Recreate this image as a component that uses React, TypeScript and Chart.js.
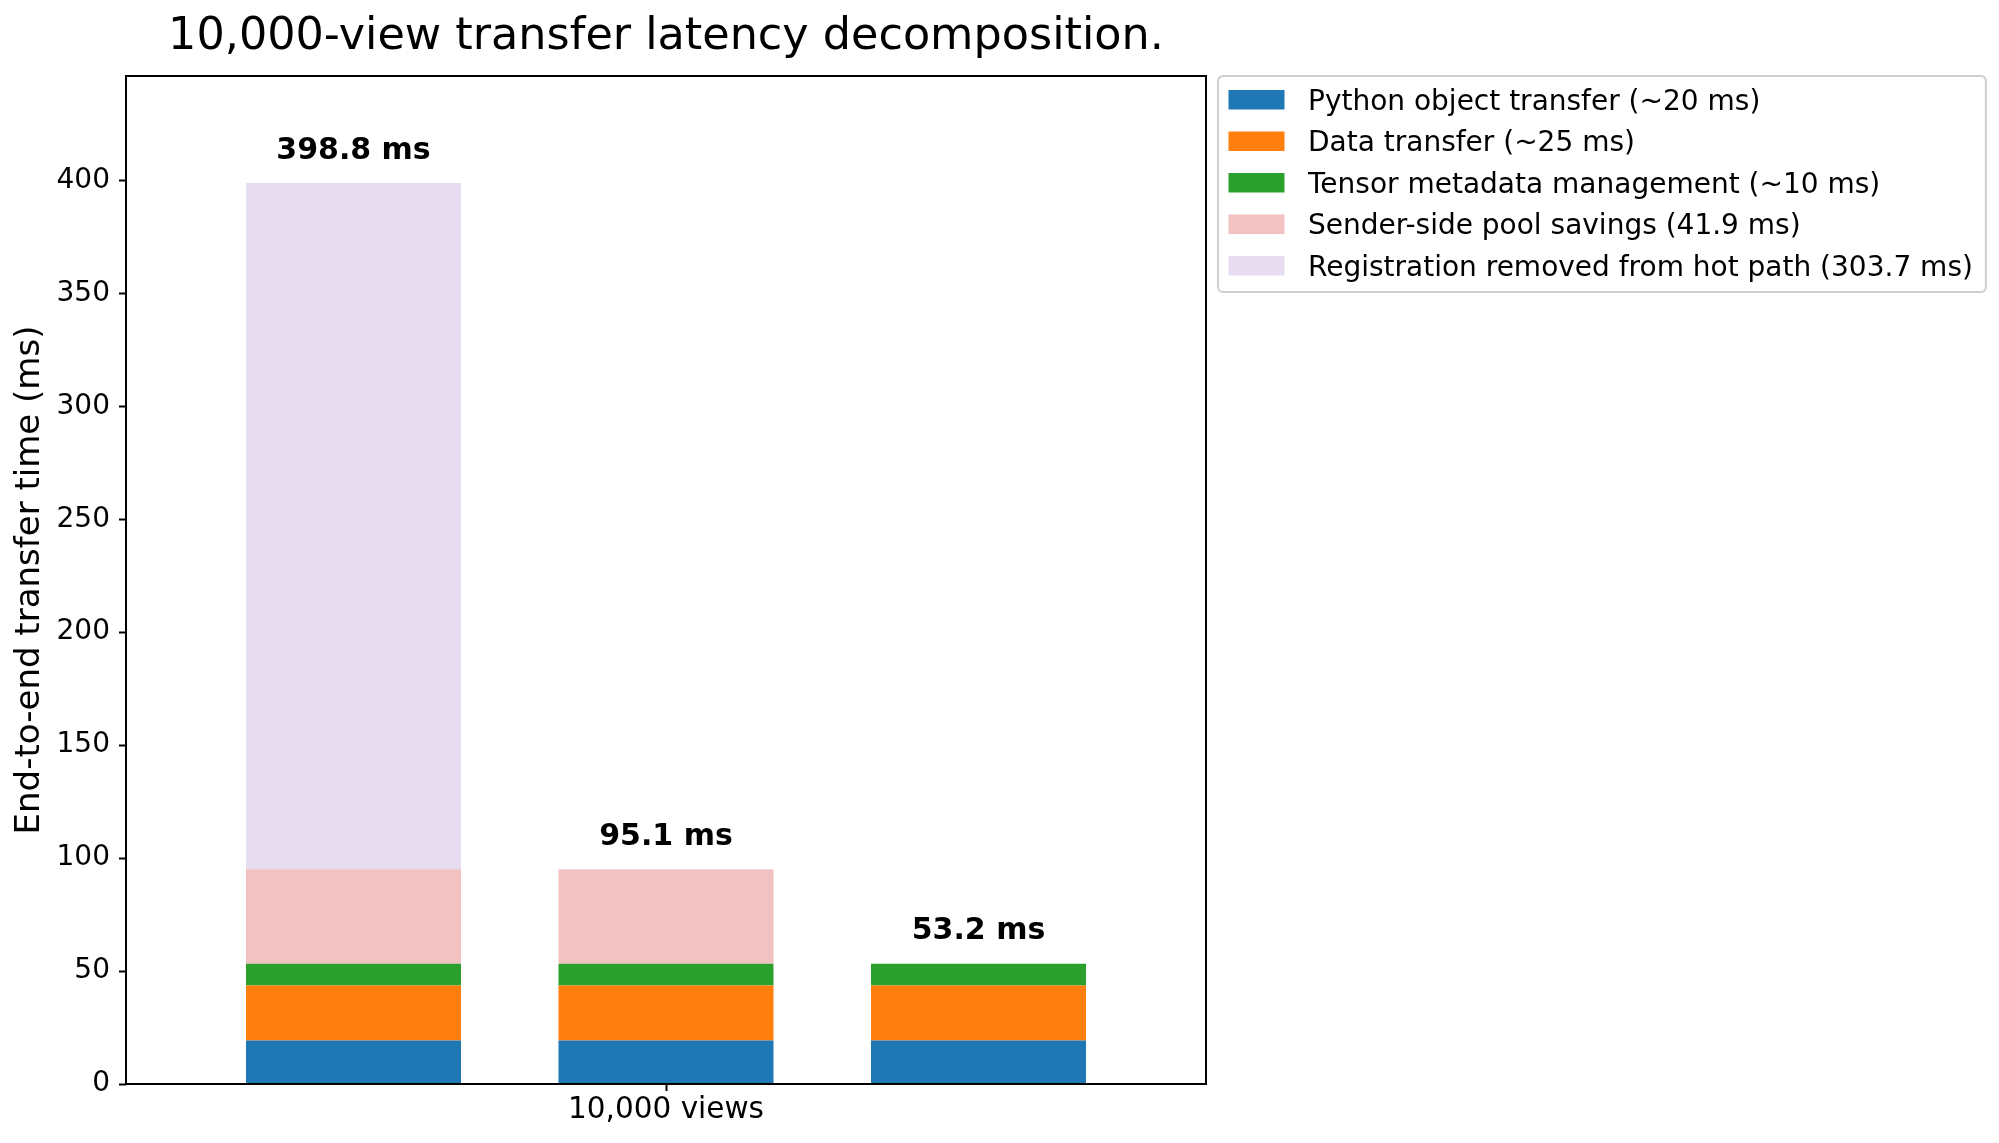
import React, { useEffect, useRef } from "react";
import { Chart, registerables } from "chart.js";

Chart.register(...registerables);

// ---- data ----
const titleText = "10,000-view transfer latency decomposition.";
const yAxisTitle = "End-to-end transfer time (ms)";
const xPositions = [-1, 0, 1];
const xTickValues = [0];
const xTickLabels = ["10,000 views"];
const yTickValues = [0, 50, 100, 150, 200, 250, 300, 350, 400];

const seriesLabels = [
  "Python object transfer (~20 ms)",
  "Data transfer (~25 ms)",
  "Tensor metadata management (~10 ms)",
  "Sender-side pool savings (41.9 ms)",
  "Registration removed from hot path (303.7 ms)",
];
const seriesColors = ["#1f77b4", "#ff7f0e", "#2ca02c", "#f2c2c3", "#e6ddf0"];

const pythonObject = [19.3, 19.3, 19.3];
const dataTransfer = [24.3, 24.3, 24.3];
const tensorMetadata = [9.6, 9.6, 9.6];
const senderPool = [41.9, 41.9, 0];
const registration = [303.7, 0, 0];
const seriesValues = [pythonObject, dataTransfer, tensorMetadata, senderPool, registration];

const yMax = 446.2;
const xMin = -1.728;
const xMax = 1.728;

const FONT = "DejaVu Sans";

const overlay = {
  id: "overlay",
  afterDatasetsDraw(chart: any) {
    const { ctx, chartArea: a, scales } = chart;
    ctx.save();
    // frame
    ctx.strokeStyle = "#000";
    ctx.lineWidth = 2;
    ctx.strokeRect(a.left, a.top, a.right - a.left, a.bottom - a.top);

    // totals
    ctx.fillStyle = "#000";
    ctx.font = `bold 30px "${FONT}"`;
    ctx.textAlign = "center";
    ctx.textBaseline = "alphabetic";
    xPositions.forEach((xv, i) => {
      const total = seriesValues.reduce((s, arr) => s + arr[i], 0);
      const px = scales.x.getPixelForValue(xv);
      const py = scales.y.getPixelForValue(total);
      ctx.fillText(`${total.toFixed(1)} ms`, px, py - 24.5);
    });

    // title
    ctx.font = `44.5px "${FONT}"`;
    ctx.fillText(titleText, (a.left + a.right) / 2, 49);

    // legend
    ctx.font = `28px "${FONT}"`;
    const maxW = Math.max(...seriesLabels.map((t) => ctx.measureText(t).width));
    const bx = a.right + 12;
    const by = a.top;
    const bw = 90 + maxW + 13;
    const rowH = 41.5;
    const bh = 14 + rowH * (seriesLabels.length - 1) + 19.5 + 16.5;
    const r = 5.5;
    ctx.beginPath();
    ctx.moveTo(bx + r, by);
    ctx.lineTo(bx + bw - r, by);
    ctx.quadraticCurveTo(bx + bw, by, bx + bw, by + r);
    ctx.lineTo(bx + bw, by + bh - r);
    ctx.quadraticCurveTo(bx + bw, by + bh, bx + bw - r, by + bh);
    ctx.lineTo(bx + r, by + bh);
    ctx.quadraticCurveTo(bx, by + bh, bx, by + bh - r);
    ctx.lineTo(bx, by + r);
    ctx.quadraticCurveTo(bx, by, bx + r, by);
    ctx.closePath();
    ctx.fillStyle = "rgba(255,255,255,0.8)";
    ctx.fill();
    ctx.strokeStyle = "#d0d0d0";
    ctx.lineWidth = 2;
    ctx.stroke();

    ctx.textAlign = "left";
    seriesLabels.forEach((t, i) => {
      const top = by + 14 + i * rowH;
      ctx.fillStyle = seriesColors[i];
      ctx.fillRect(bx + 10.5, top, 56, 19.5);
      ctx.fillStyle = "#000";
      ctx.fillText(t, bx + 90, top + 19.5);
    });
    ctx.restore();
  },
};

export default function App() {
  const ref = useRef<HTMLCanvasElement | null>(null);
  useEffect(() => {
    if (!ref.current) return;
    Chart.defaults.font.family = FONT;
    const chart = new Chart(ref.current, {
      type: "bar",
      data: {
        datasets: seriesValues.map((vals, si) => ({
          label: seriesLabels[si],
          data: xPositions.map((x, i) => ({ x, y: vals[i] })),
          backgroundColor: seriesColors[si],
          borderWidth: 0,
          categoryPercentage: 1,
          barPercentage: 0.688,
        })),
      },
      options: {
        animation: false,
        responsive: true,
        maintainAspectRatio: false,
        layout: { padding: { top: 76, right: 793, left: 0, bottom: 0 } },
        plugins: {
          legend: { display: false },
          tooltip: { enabled: false },
          title: { display: false },
        },
        scales: {
          x: {
            type: "linear",
            stacked: true,
            min: xMin,
            max: xMax,
            offset: false,
            afterBuildTicks: (scale: any) => {
              scale.ticks = xTickValues.map((v) => ({ value: v }));
            },
            afterFit: (scale: any) => {
              scale.height = 59;
            },
            ticks: {
              callback: (_v: any, i: number) => xTickLabels[i],
              color: "#000",
              font: { size: 29.5, family: FONT },
              padding: 2,
              maxRotation: 0,
            },
            grid: {
              offset: false,
              drawOnChartArea: false,
              drawTicks: true,
              tickLength: 7,
              tickColor: "#000",
              tickWidth: 2,
            },
            border: { display: false },
          },
          y: {
            type: "linear",
            stacked: true,
            min: 0,
            max: yMax,
            afterBuildTicks: (scale: any) => {
              scale.ticks = yTickValues.map((v) => ({ value: v }));
            },
            afterFit: (scale: any) => {
              scale.width = 126;
            },
            ticks: {
              color: "#000",
              font: { size: 28, family: FONT },
              padding: 9,
            },
            grid: {
              drawOnChartArea: false,
              drawTicks: true,
              tickLength: 7,
              tickColor: "#000",
              tickWidth: 2,
            },
            border: { display: false },
            title: {
              display: true,
              text: yAxisTitle,
              color: "#000",
              font: { size: 34, family: FONT },
              padding: { top: 10, bottom: 0 },
            },
          },
        },
      },
      plugins: [overlay],
    } as any);
    return () => chart.destroy();
  }, []);
  return (
    <div style={{ position: "fixed", left: 0, top: 0, width: 1999, height: 1143, background: "#fff" }}>
      <canvas ref={ref} />
    </div>
  );
}
